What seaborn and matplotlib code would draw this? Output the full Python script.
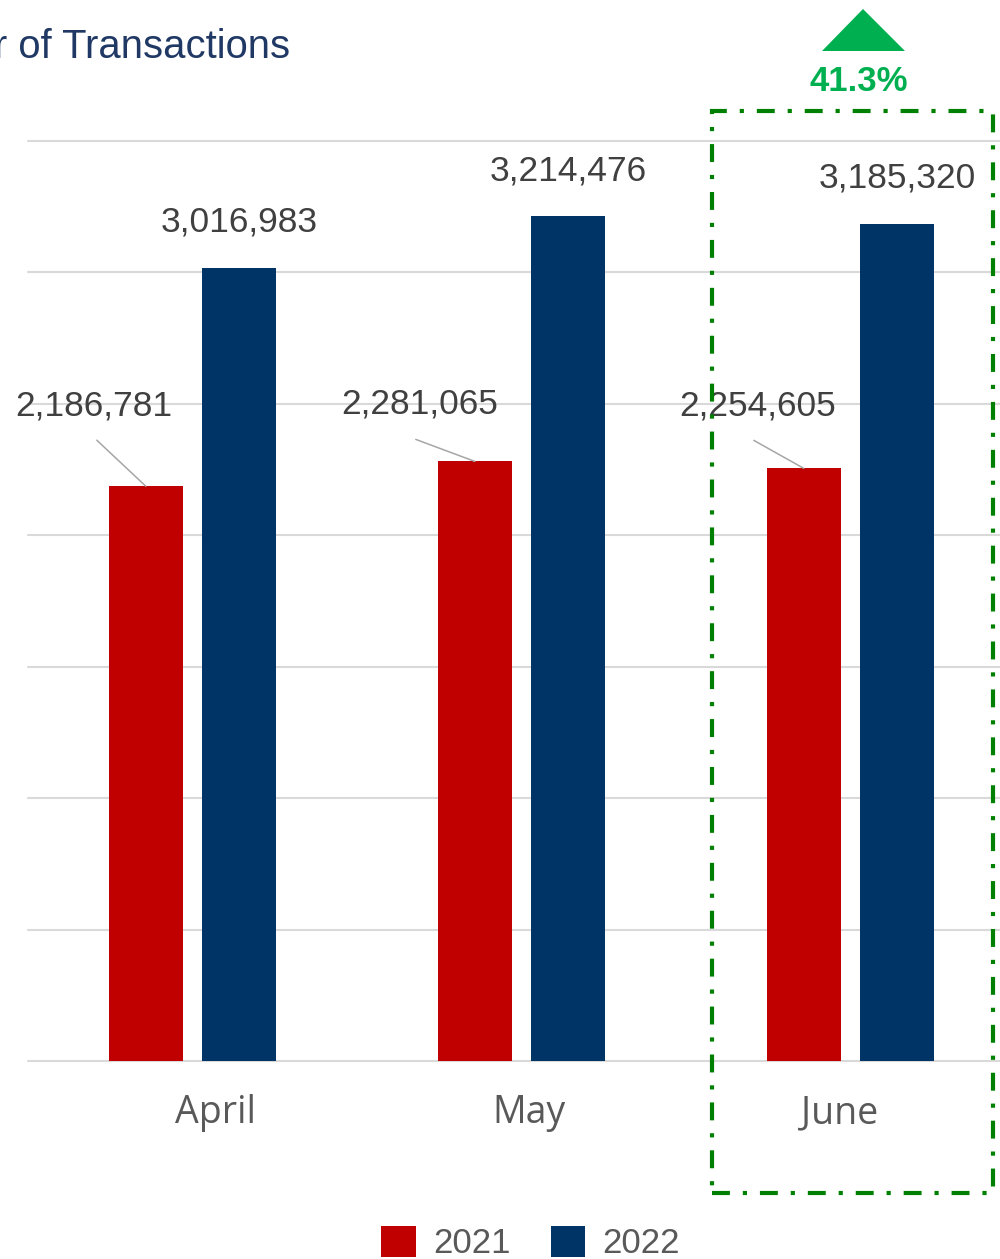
import matplotlib
matplotlib.use("Agg")
import matplotlib.pyplot as plt
from matplotlib.patches import Rectangle, Polygon
import seaborn as sns
import pandas as pd

# ---- data ----
months = ["April", "May", "June"]
years = ["2021", "2022"]
values_2021 = [2186781, 2281065, 2254605]
values_2022 = [3016983, 3214476, 3185320]
growth_label = "41.3%"
title_text = "Number of Transactions"

# ---- style ----
RED = "#C00000"
BLUE = "#003366"
GREEN_BOX = "#008000"
GREEN_TRI = "#00B050"
GRID = "#D9D9D9"
LABEL = "#404040"
AXLABEL = "#595959"
TITLE = "#1F3864"

W, H = 1000, 1259

df = pd.DataFrame({
    "Month": months * 2,
    "Year": [years[0]] * 3 + [years[1]] * 3,
    "Transactions": values_2021 + values_2022,
})

sns.set_theme(style="white")
plt.rcParams["font.family"] = ["Liberation Sans", "DejaVu Sans"]

fig = plt.figure(figsize=(W / 100, H / 100), dpi=100)
ax = fig.add_axes([28 / W, 1 - 1061 / H, 987 / W, 920 / H])

sns.barplot(data=df, x="Month", y="Transactions", hue="Year",
            palette=[RED, BLUE], width=0.568, gap=0.21, saturation=1,
            linewidth=0, ax=ax)

ax.set_xlim(-0.5, 2.5)
ax.set_ylim(0, 3500000)
ax.set_yticks(range(0, 3500001, 500000))
ax.grid(axis="y", color=GRID, linewidth=1.5)
ax.grid(axis="x", visible=False)
ax.set_axisbelow(True)
for ln in ax.get_ygridlines():
    ln.set_clip_on(False)
for s in ax.spines.values():
    s.set_visible(False)
ax.set_yticklabels([])
ax.set_xticklabels([])
ax.tick_params(length=0)
ax.set_xlabel("")
ax.set_ylabel("")

# category labels (slightly offset as in reference)
cat_dx = [23, 7, -11]
for i, (m, dx) in enumerate(zip(months, cat_dx)):
    ax.annotate(m, xy=(i, 0), xycoords=("data", "axes fraction"),
                xytext=(dx, -62), textcoords="offset pixels",
                ha="center", va="baseline", fontsize=27,
                color=AXLABEL, family=["Open Sans", "DejaVu Sans"])

# value labels
bars21 = ax.containers[0]
bars22 = ax.containers[1]
lab21_off = [(-52, 71), (-55, 48), (-46, 53)]
line21_off = [(-49, 46), (-59, 22), (-50, 28)]
for bar, v, (tx, ty), (lx, ly) in zip(bars21, values_2021, lab21_off, line21_off):
    xc = bar.get_x() + bar.get_width() / 2
    top = bar.get_height()
    ax.annotate(f"{v:,}", xy=(xc, top), xytext=(tx, ty),
                textcoords="offset pixels", ha="center", va="baseline",
                fontsize=25.5, color=LABEL)
    ax.annotate("", xy=(xc, top), xytext=(lx, ly), textcoords="offset pixels",
                arrowprops=dict(arrowstyle="-", color="#A6A6A6", lw=1.1,
                                shrinkA=0, shrinkB=0))
for bar, v in zip(bars22, values_2022):
    xc = bar.get_x() + bar.get_width() / 2
    top = bar.get_height()
    ax.annotate(f"{v:,}", xy=(xc, top), xytext=(0, 36),
                textcoords="offset pixels", ha="center", va="baseline",
                fontsize=25.5, color=LABEL)

# legend
sns.move_legend(ax, loc="center left", bbox_to_anchor=(381 / W, 1 - 1243 / H),
                bbox_transform=fig.transFigure, ncol=2, frameon=False,
                title=None, fontsize=25, handlelength=1.0, handleheight=1.0,
                handletextpad=0.5, columnspacing=1.15, borderpad=0,
                labelcolor=AXLABEL, borderaxespad=0)

# title (cropped at left edge like the reference)
fig.text(290 / W, 1 - 58 / H, title_text, ha="right", va="baseline",
         fontsize=28.8, color=TITLE)

# highlight box around June
fig.patches.append(Rectangle((712 / W, 1 - 1193 / H), 281 / W, 1082 / H,
                             transform=fig.transFigure, fill=False,
                             edgecolor=GREEN_BOX, linewidth=3,
                             linestyle=(0, (4.3, 3.1, 1, 3.1))))
# growth arrow + label
fig.patches.append(Polygon([(822 / W, 1 - 51 / H), (905 / W, 1 - 51 / H),
                            (863 / W, 1 - 9 / H)], closed=True,
                           transform=fig.transFigure, facecolor=GREEN_TRI,
                           edgecolor="none"))
fig.text(859 / W, 1 - 91 / H, growth_label, ha="center", va="baseline",
         fontsize=25, fontweight="bold", color=GREEN_TRI)

fig.savefig("out.png", dpi=100)
